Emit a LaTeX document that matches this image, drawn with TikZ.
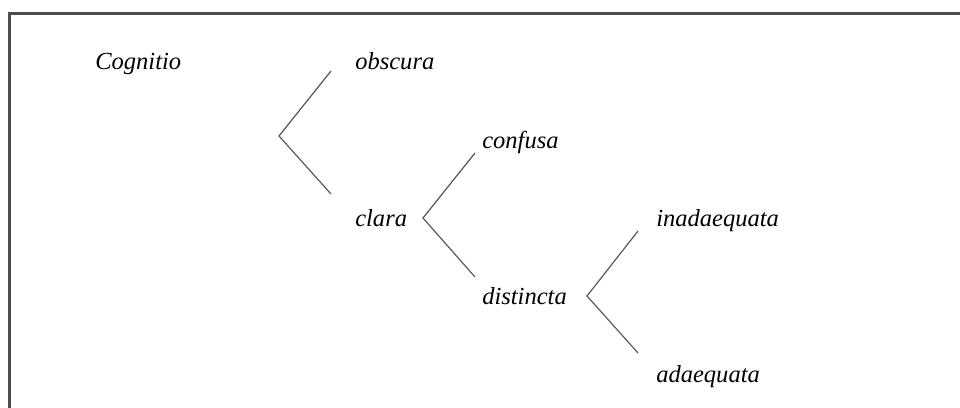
\documentclass[tikz,border=0pt]{standalone}
\usepackage{fontspec}
\setmainfont{Liberation Serif}
\begin{document}
\begin{tikzpicture}[x=0.75pt,y=-0.75pt,
  term/.style={anchor=base west,inner sep=0pt,font=\fontsize{18.4}{20}\selectfont\itshape},
  branch/.style={draw=black!65,line width=0.9pt},
  frameline/.style={draw=black!70,line width=1.6pt}]
\useasboundingbox (0,0) rectangle (960,407);
% frame
\coordinate (f1) at (9.5,410);
\coordinate (f2) at (9.5,13.5);
\coordinate (f3) at (962,13.5);
\draw[frameline] (f1) -- (f2) -- (f3);
% terms
\node[term] (cog) at (95,69.5) {Cognitio};
\node[term] (obs) at (355,69.5) {obscura};
\node[term] (conf) at (482,148.5) {confusa};
\node[term] (clara) at (355,226.5) {clara};
\node[term] (inad) at (656,226.5) {inadaequata};
\node[term] (dist) at (482,304.5) {distincta};
\node[term] (adae) at (656,382.5) {adaequata};
% bracket 1
\coordinate (v1) at (279,136);
\coordinate (t1) at (331,71);
\coordinate (b1) at (331,194);
\draw[branch] (t1) -- (v1) -- (b1);
% bracket 2
\coordinate (v2) at (423,218);
\coordinate (t2) at (475,153);
\coordinate (b2) at (475,277);
\draw[branch] (t2) -- (v2) -- (b2);
% bracket 3
\coordinate (v3) at (587,296);
\coordinate (t3) at (638,231);
\coordinate (b3) at (638,353);
\draw[branch] (t3) -- (v3) -- (b3);
\end{tikzpicture}
\end{document}
